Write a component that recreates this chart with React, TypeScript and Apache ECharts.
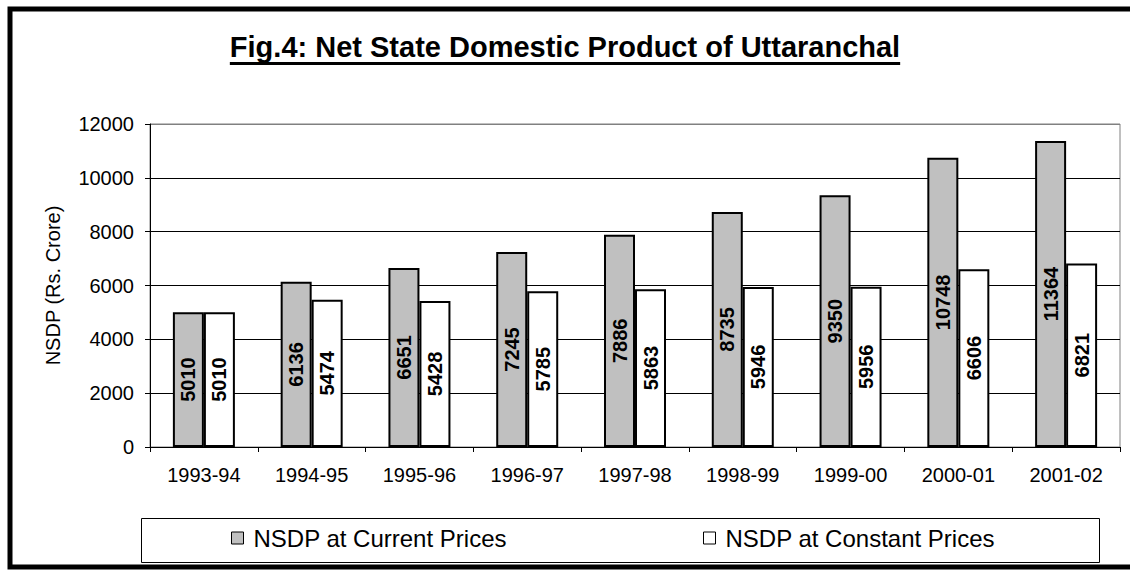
import React, { useEffect, useRef } from "react";
import * as echarts from "echarts";

const categories = ["1993-94", "1994-95", "1995-96", "1996-97", "1997-98", "1998-99", "1999-00", "2000-01", "2001-02"];
const currentPrices = [5010, 6136, 6651, 7245, 7886, 8735, 9350, 10748, 11364];
const constantPrices = [5010, 5474, 5428, 5785, 5863, 5946, 5956, 6606, 6821];
const seriesNames = ["NSDP at Current Prices", "NSDP at Constant Prices"];
const titleText = "Fig.4: Net State Domestic Product of Uttaranchal";
const yAxisName = "NSDP (Rs. Crore)";
const yMin = 0;
const yMax = 12000;
const yInterval = 2000;

const FONT = "'Liberation Sans', Arial, Helvetica, sans-serif";

export default function App() {
  const ref = useRef<HTMLDivElement>(null);

  useEffect(() => {
    if (!ref.current) return;
    const chart = echarts.init(ref.current, null, { renderer: "svg" });
    const titleSize = 29;
    let titleWidth = 670;
    try {
      const c = document.createElement("canvas").getContext("2d");
      if (c) {
        c.font = `bold ${titleSize}px ${FONT}`;
        titleWidth = c.measureText(titleText).width;
      }
    } catch (e) {}
    const cx = 565;
    const splitColors = [
      "#000000", "#000000", "#000000", "#000000", "#000000", "#000000", "#808080",
    ];
    const legendCommon = {
      top: 526,
      padding: 0,
      itemWidth: 12,
      itemHeight: 12,
      icon: "rect",
      itemStyle: { borderColor: "#000", borderWidth: 1 },
      textStyle: { fontSize: 24, color: "#000", fontFamily: FONT, padding: [0, 0, 0, 5] },
    };
    const labelCommon = {
      show: true,
      position: "inside",
      rotate: 90,
      fontSize: 20,
      fontWeight: "bold",
      color: "#000",
      fontFamily: FONT,
    };
    chart.setOption({
      animation: false,
      backgroundColor: "#ffffff",
      textStyle: { fontFamily: FONT },
      grid: {
        left: 150,
        right: 10,
        top: 124,
        bottom: 123,
        show: true,
        borderColor: "#808080",
        borderWidth: 1,
        backgroundColor: "#ffffff",
      },
      legend: [
        { ...legendCommon, data: [seriesNames[0]], left: 231 },
        { ...legendCommon, data: [seriesNames[1]], left: 703 },
      ],
      xAxis: {
        type: "category",
        data: categories,
        axisLine: { show: true, lineStyle: { color: "#000", width: 1 } },
        axisTick: { show: true, length: 5, lineStyle: { color: "#000" } },
        axisLabel: { fontSize: 20, color: "#000", margin: 18, fontFamily: FONT, interval: 0 },
        splitLine: { show: false },
      },
      yAxis: {
        type: "value",
        min: yMin,
        max: yMax,
        interval: yInterval,
        name: yAxisName,
        nameLocation: "middle",
        nameRotate: 90,
        nameGap: 87,
        nameTextStyle: { fontSize: 20, color: "#000", fontFamily: FONT },
        axisLine: { show: true, lineStyle: { color: "#000", width: 1 } },
        axisTick: { show: true, length: 5, lineStyle: { color: "#000" } },
        axisLabel: {
          fontSize: 20,
          color: "#000",
          margin: 16,
          fontFamily: FONT,
          formatter: (v: number) => String(v),
        },
        splitLine: { show: true, lineStyle: { color: splitColors, width: 1 } },
      },
      series: [
        {
          name: seriesNames[0],
          type: "bar",
          data: currentPrices,
          barWidth: 31,
          barGap: "0%",
          itemStyle: { color: "#c0c0c0", borderColor: "#000", borderWidth: 2 },
          label: labelCommon,
        },
        {
          name: seriesNames[1],
          type: "bar",
          data: constantPrices,
          barWidth: 31,
          barGap: "0%",
          itemStyle: { color: "#ffffff", borderColor: "#000", borderWidth: 2 },
          label: labelCommon,
        },
      ],
      graphic: [
        {
          type: "rect",
          left: 139,
          top: 516,
          shape: { x: 0, y: 0, width: 958, height: 44 },
          style: { fill: "none", stroke: "#000", lineWidth: 1 },
          z: -1,
          silent: true,
        },
        {
          type: "text",
          x: cx,
          y: 47,
          style: {
            text: titleText,
            fontSize: titleSize,
            fontWeight: "bold",
            fontFamily: FONT,
            fill: "#000",
            align: "center",
            verticalAlign: "middle",
          },
          silent: true,
        },
        {
          type: "line",
          shape: { x1: cx - titleWidth / 2, y1: 63.5, x2: cx + titleWidth / 2, y2: 63.5 },
          style: { stroke: "#000", lineWidth: 3 },
          silent: true,
        },
        {
          type: "rect",
          shape: { x: 10, y: 9, width: 1140, height: 558 },
          style: { fill: "none", stroke: "#000", lineWidth: 5 },
          silent: true,
        },
      ],
    });
    return () => chart.dispose();
  }, []);

  return (
    <div
      ref={ref}
      style={{ position: "fixed", left: 0, top: 0, width: 1130, height: 570, background: "#fff" }}
    />
  );
}
